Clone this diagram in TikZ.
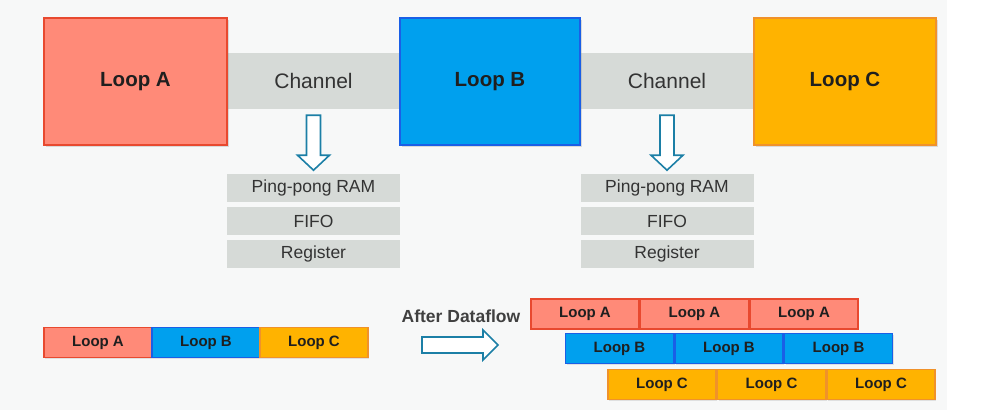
\documentclass[tikz,border=0pt]{standalone}
\usepackage{fontspec}
\setmainfont{Liberation Sans}
\usetikzlibrary{shadows}
\definecolor{loopa}{HTML}{FF8A78}
\definecolor{loopaline}{HTML}{E8492F}
\definecolor{loopb}{HTML}{00A0EE}
\definecolor{loopbline}{HTML}{1A5FE6}
\definecolor{loopc}{HTML}{FFB300}
\definecolor{loopcline}{HTML}{F0922A}
\definecolor{chan}{HTML}{D6DAD7}
\definecolor{hollow}{HTML}{1C7FA6}
\definecolor{backgr}{HTML}{F7F8F8}

\begin{document}
\begin{tikzpicture}[x=1pt, y=-1pt,
  loopbig/.style={draw, line width=1.6pt, inner sep=0pt, minimum height=127pt,
    text=black!88, font=\fontsize{20.5}{23}\selectfont\bfseries,
    drop shadow={opacity=0.25, shadow xshift=1.5pt, shadow yshift=-1.5pt}},
  loopsmall/.style={draw, line width=1.3pt, inner sep=0pt, minimum width=108pt, minimum height=30pt,
    text=black!88, font=\fontsize{15}{17}\selectfont\bfseries,
    drop shadow={opacity=0.2, shadow xshift=1pt, shadow yshift=-1pt}},
  fa/.style={fill=loopa, draw=loopaline},
  fb/.style={fill=loopb, draw=loopbline},
  fc/.style={fill=loopc, draw=loopcline},
  chanbox/.style={fill=chan, inner sep=0pt, minimum width=173pt, minimum height=56pt,
    text=black!80, font=\fontsize{21}{24}\selectfont},
  membox/.style={fill=chan, inner sep=0pt, minimum width=173pt, minimum height=28pt,
    text=black!80, font=\fontsize{17.5}{20}\selectfont},
  hollowarrow/.style={draw=hollow, fill=white, line width=1.6pt, line join=miter}]

  % background
  \fill[white] (0,0) rectangle (1001,410);
  \fill[backgr] (0,0) rectangle (947,410);

  % channels between the loops
  \node[chanbox] (ch1) at (313.5,81) {Channel};
  \node[chanbox] (ch2) at (667,81) {Channel};

  % the three loops
  \node[loopbig, fa, minimum width=183pt] (la) at (135.5,81.5) {Loop A};
  \node[loopbig, fb, minimum width=180pt] (lb) at (490,81.5) {Loop B};
  \node[loopbig, fc, minimum width=182pt] (lc) at (845,81.5) {Loop C};

  % channel implementations
  \foreach \c/\x in {1/313.5, 2/667} {
    \node[membox] (pp\c) at (\x,188) {Ping-pong RAM};
    \node[membox] (fifo\c) at (\x,221) {FIFO};
    \node[membox] (reg\c) at (\x,254) {Register};
    \draw[hollowarrow] ([xshift=-7pt,yshift=-6pt]ch\c.south) -- ++(0,40) -- ++(-9,0)
      -- ++(16,15) -- ++(16,-15) -- ++(-9,0) -- ++(0,-40) -- cycle;
  }

  % sequential schedule
  \node[loopsmall, fa] (sa) at (98,342.5) {Loop A};
  \node[loopsmall, fb] (sb) at (206,342.5) {Loop B};
  \node[loopsmall, fc] (sc) at (314,342.5) {Loop C};

  \node[text=black!75, font=\fontsize{17.5}{20}\selectfont\bfseries] (after) at (461,316) {After Dataflow};
  \coordinate (flow) at (422,344.5);
  \draw[hollowarrow] (flow) ++(0,-7.5) -- ++(61,0) -- ++(0,-7) -- ++(15,15)
    -- ++(-15,15) -- ++(0,-7) -- ++(-61,0) -- cycle;

  % overlapped schedule
  \foreach \row/\name/\x/\y in {a/A/585/314, b/B/619.5/348.5, c/C/662/384.5}
    \foreach \i in {0,1,2}
      \node[loopsmall, f\row] (o\row\i) at (\x+\i*109.5,\y) {Loop \name};
\end{tikzpicture}
\end{document}
